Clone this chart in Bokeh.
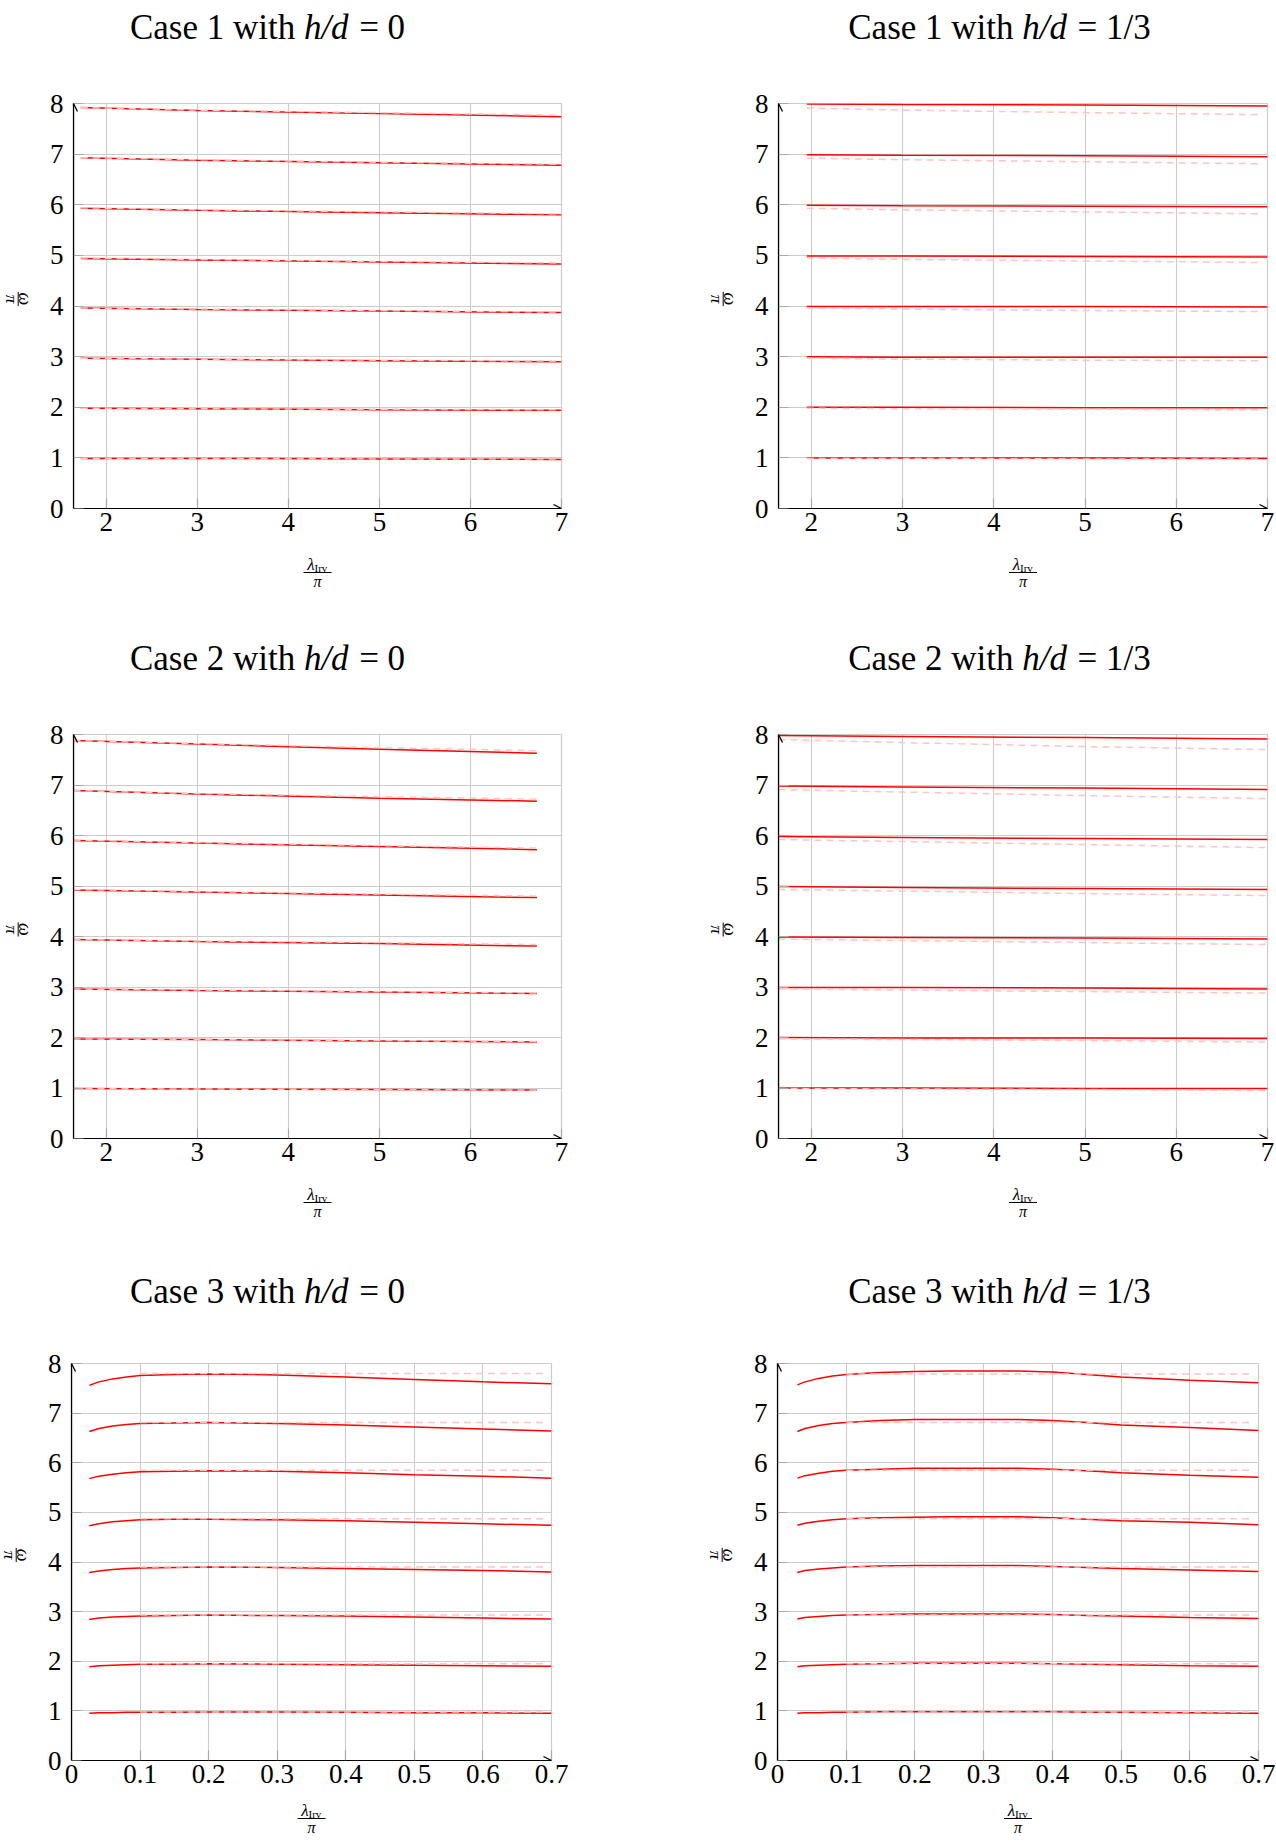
import math
from bokeh.plotting import figure
from bokeh.models import Range1d, FixedTicker, Label, Arrow, OpenHead
from bokeh.layouts import column, row
from bokeh.embed import file_html
from bokeh.resources import INLINE

# ---------------- data ----------------
y_ticks = [0, 1, 2, 3, 4, 5, 6, 7, 8]
y_tick_labels = ["0", "1", "2", "3", "4", "5", "6", "7", "8"]
x_ticks_lam = [2, 3, 4, 5, 6, 7]
x_tick_labels_lam = ["2", "3", "4", "5", "6", "7"]
x_ticks_small = [0, 0.1, 0.2, 0.3, 0.4, 0.5, 0.6, 0.7]
x_tick_labels_small = ["0", "0.1", "0.2", "0.3", "0.4", "0.5", "0.6", "0.7"]

case_names = ["Case 1", "Case 1", "Case 2", "Case 2", "Case 3", "Case 3"]
hd_names = ["0", "1/3", "0", "1/3", "0", "1/3"]

# Case 1, h/d = 0   (modes n = 1..8)
c1_hd0_x = [1.72, 3, 5, 7]
c1_hd0_solid = [
    [0.99, 0.99, 0.98, 0.97],
    [1.98, 1.97, 1.95, 1.94],
    [2.97, 2.95, 2.92, 2.90],
    [3.96, 3.93, 3.90, 3.87],
    [4.94, 4.91, 4.87, 4.83],
    [5.93, 5.89, 5.84, 5.80],
    [6.93, 6.88, 6.83, 6.78],
    [7.92, 7.86, 7.80, 7.74],
]
c1_hd0_dash_x = [1.72, 3, 5, 7]
c1_hd0_dash = [
    [0.99, 0.99, 0.98, 0.98],
    [1.98, 1.97, 1.96, 1.95],
    [2.97, 2.95, 2.93, 2.91],
    [3.96, 3.94, 3.91, 3.88],
    [4.95, 4.92, 4.88, 4.85],
    [5.94, 5.90, 5.86, 5.82],
    [6.93, 6.89, 6.84, 6.80],
    [7.92, 7.87, 7.82, 7.77],
]

# Case 1, h/d = 1/3
c1_hd13_x = [1.95, 3, 5, 7]
c1_hd13_solid = [
    [1.00, 1.00, 1.00, 0.99],
    [2.00, 2.00, 1.99, 1.99],
    [3.00, 2.99, 2.99, 2.99],
    [3.99, 3.99, 3.99, 3.98],
    [4.99, 4.99, 4.98, 4.97],
    [5.99, 5.98, 5.97, 5.96],
    [6.99, 6.98, 6.97, 6.95],
    [7.99, 7.98, 7.97, 7.95],
]
c1_hd13_dash_x = [1.95, 3, 5, 6.92]
c1_hd13_dash = [
    [0.99, 0.99, 0.98, 0.98],
    [1.98, 1.97, 1.96, 1.95],
    [2.97, 2.95, 2.93, 2.92],
    [3.96, 3.94, 3.91, 3.89],
    [4.95, 4.92, 4.89, 4.86],
    [5.93, 5.90, 5.86, 5.82],
    [6.92, 6.89, 6.85, 6.81],
    [7.91, 7.87, 7.82, 7.78],
]

# Case 2, h/d = 0
c2_hd0_x = [1.64, 3, 5, 6.73]
c2_hd0_solid = [
    [0.99, 0.98, 0.97, 0.96],
    [1.97, 1.96, 1.93, 1.91],
    [2.96, 2.93, 2.90, 2.87],
    [3.94, 3.90, 3.86, 3.81],
    [4.92, 4.88, 4.82, 4.77],
    [5.90, 5.85, 5.78, 5.72],
    [6.89, 6.82, 6.74, 6.68],
    [7.88, 7.81, 7.71, 7.63],
]
c2_hd0_dash_x = [1.64, 3, 5, 6.73]
c2_hd0_dash = [
    [0.99, 0.98, 0.97, 0.96],
    [1.97, 1.96, 1.94, 1.92],
    [2.96, 2.94, 2.91, 2.88],
    [3.94, 3.91, 3.88, 3.84],
    [4.93, 4.89, 4.84, 4.80],
    [5.91, 5.86, 5.80, 5.75],
    [6.89, 6.83, 6.77, 6.72],
    [7.88, 7.82, 7.74, 7.68],
]

# Case 2, h/d = 1/3
c2_hd13_x = [1.64, 3, 5, 7]
c2_hd13_solid = [
    [1.00, 1.00, 0.99, 0.99],
    [2.00, 1.99, 1.99, 1.98],
    [2.99, 2.99, 2.98, 2.96],
    [3.99, 3.98, 3.97, 3.95],
    [4.99, 4.97, 4.95, 4.93],
    [5.98, 5.96, 5.94, 5.92],
    [6.98, 6.96, 6.94, 6.91],
    [7.98, 7.96, 7.94, 7.91],
]
c2_hd13_dash_x = [1.64, 3, 5, 7]
c2_hd13_dash = [
    [0.99, 0.98, 0.97, 0.95],
    [1.97, 1.96, 1.94, 1.91],
    [2.96, 2.94, 2.91, 2.88],
    [3.95, 3.92, 3.88, 3.84],
    [4.93, 4.90, 4.85, 4.81],
    [5.92, 5.88, 5.82, 5.76],
    [6.91, 6.86, 6.79, 6.73],
    [7.90, 7.84, 7.76, 7.70],
]

# Case 3, h/d = 0
c3_hd0_x = [0.026, 0.04, 0.06, 0.08, 0.1, 0.15, 0.2, 0.3, 0.4, 0.5, 0.6, 0.7]
c3_hd0_solid = [
    [0.95, 0.96, 0.96, 0.97, 0.97, 0.97, 0.975, 0.975, 0.97, 0.96, 0.96, 0.95],
    [1.89, 1.91, 1.92, 1.93, 1.94, 1.94, 1.95, 1.94, 1.93, 1.92, 1.91, 1.90],
    [2.84, 2.87, 2.89, 2.90, 2.91, 2.92, 2.93, 2.92, 2.91, 2.89, 2.87, 2.85],
    [3.79, 3.82, 3.85, 3.87, 3.88, 3.89, 3.90, 3.89, 3.87, 3.85, 3.83, 3.80],
    [4.73, 4.77, 4.81, 4.83, 4.85, 4.86, 4.86, 4.85, 4.83, 4.80, 4.77, 4.74],
    [5.68, 5.73, 5.77, 5.80, 5.82, 5.83, 5.84, 5.83, 5.80, 5.76, 5.73, 5.69],
    [6.63, 6.69, 6.74, 6.77, 6.79, 6.80, 6.81, 6.79, 6.76, 6.72, 6.68, 6.64],
    [7.56, 7.63, 7.69, 7.73, 7.76, 7.78, 7.79, 7.77, 7.73, 7.68, 7.63, 7.59],
]
c3_hd0_dash_x = [0.1, 0.69]
c3_hd0_dash = [
    [0.975, 0.975],
    [1.95, 1.95],
    [2.93, 2.93],
    [3.90, 3.90],
    [4.87, 4.87],
    [5.85, 5.85],
    [6.81, 6.81],
    [7.80, 7.80],
]

# Case 3, h/d = 1/3
c3_hd13_x = [0.029, 0.04, 0.06, 0.08, 0.1, 0.15, 0.2, 0.25, 0.3, 0.35, 0.4, 0.45, 0.5, 0.6, 0.7]
c3_hd13_solid = [
    [0.95, 0.96, 0.96, 0.97, 0.97, 0.98, 0.98, 0.98, 0.98, 0.98, 0.98, 0.97, 0.97, 0.96, 0.95],
    [1.89, 1.91, 1.92, 1.93, 1.94, 1.95, 1.96, 1.96, 1.96, 1.96, 1.95, 1.94, 1.93, 1.91, 1.90],
    [2.85, 2.88, 2.90, 2.92, 2.93, 2.94, 2.95, 2.95, 2.95, 2.95, 2.94, 2.92, 2.91, 2.88, 2.86],
    [3.79, 3.83, 3.86, 3.88, 3.90, 3.92, 3.93, 3.93, 3.93, 3.93, 3.91, 3.89, 3.87, 3.84, 3.81],
    [4.74, 4.78, 4.82, 4.85, 4.87, 4.89, 4.90, 4.91, 4.91, 4.91, 4.89, 4.86, 4.83, 4.80, 4.75],
    [5.69, 5.74, 5.79, 5.83, 5.85, 5.87, 5.89, 5.89, 5.89, 5.89, 5.87, 5.84, 5.80, 5.75, 5.71],
    [6.63, 6.69, 6.75, 6.79, 6.81, 6.85, 6.87, 6.87, 6.87, 6.87, 6.85, 6.81, 6.76, 6.71, 6.65],
    [7.57, 7.63, 7.70, 7.75, 7.78, 7.82, 7.84, 7.85, 7.85, 7.85, 7.83, 7.78, 7.73, 7.66, 7.61],
]
c3_hd13_dash_x = [0.1, 0.69]
c3_hd13_dash = [
    [0.975, 0.975],
    [1.95, 1.95],
    [2.93, 2.93],
    [3.90, 3.90],
    [4.87, 4.87],
    [5.85, 5.85],
    [6.81, 6.81],
    [7.79, 7.79],
]

# ---------------- styling helpers ----------------
SERIF = "Liberation Serif"
RED = "#ff0000"
PINK = "#ffc4c4"
GRID = "#cccccc"

TIMES_ROMAN = {"C": 0.667, "a": 0.444, "s": 0.389, "e": 0.444, " ": 0.25,
               "0": 0.5, "1": 0.5, "2": 0.5, "3": 0.5, "w": 0.722, "i": 0.278,
               "t": 0.278, "h": 0.5, "/": 0.278, "d": 0.5, "=": 0.564}
TIMES_ITALIC = {"h": 0.5, "/": 0.278, "d": 0.5}

PLOT_LEFT = 36    # border kept inside the plot figure for the y tick labels
PLOT_TOP = 20
PLOT_BOTTOM = 36


def text_width(s, table, size):
    return sum(table.get(ch, 0.5) for ch in s) * size


def lbl(x, y, text, size, style="normal", align="left", angle=0.0):
    return Label(x=x, y=y, text=text, text_font=SERIF, text_font_size=f"{size}px",
                 text_font_style=style, text_align=align, text_baseline="middle",
                 text_color="black", angle=angle)


def strip(w, h):
    s = figure(width=w, height=h, x_range=Range1d(0, w), y_range=Range1d(0, h),
               min_border=0, min_border_left=0, min_border_right=0, min_border_top=0,
               min_border_bottom=0, toolbar_location=None, output_backend="svg",
               x_axis_location=None, y_axis_location=None, outline_line_color=None,
               background_fill_color="white", border_fill_color="white")
    s.grid.visible = False
    return s


def make_panel(xr, ticks, tick_labels, sx, sys_, dx, dys, case_txt, hd_txt,
               W, bl, fw, bt, fh, bb, title_cx, title_rise, bar_drop):
    br = W - bl - fw
    ph = PLOT_TOP + fh + PLOT_BOTTOM
    ystrip_w = bl - PLOT_LEFT

    p = figure(width=W - ystrip_w, height=ph, x_range=Range1d(xr[0], xr[1]),
               y_range=Range1d(0, 8), output_backend="svg", toolbar_location=None,
               min_border_left=PLOT_LEFT, min_border_right=br, min_border_top=PLOT_TOP,
               min_border_bottom=PLOT_BOTTOM, outline_line_color=GRID,
               outline_line_width=1.2, background_fill_color="white",
               border_fill_color="white")

    p.xaxis.ticker = FixedTicker(ticks=ticks)
    p.xaxis.major_label_overrides = {t: l for t, l in zip(ticks, tick_labels)}
    p.yaxis.ticker = FixedTicker(ticks=y_ticks)
    p.yaxis.major_label_overrides = {t: l for t, l in zip(y_ticks, y_tick_labels)}
    for ax in (p.xaxis[0], p.yaxis[0]):
        ax.axis_line_color = "black"
        ax.axis_line_width = 1.2
        ax.major_tick_in = 10
        ax.major_tick_out = 0
        ax.major_tick_line_color = "#a8a8a8"
        ax.major_tick_line_width = 1.2
        ax.minor_tick_line_color = None
        ax.major_label_text_font = SERIF
        ax.major_label_text_font_size = "27px"
        ax.major_label_text_color = "black"
    p.xaxis.major_label_standoff = 4
    p.yaxis.major_label_standoff = 10
    p.xgrid.grid_line_color = GRID
    p.ygrid.grid_line_color = GRID
    p.xgrid.grid_line_width = 1.1
    p.ygrid.grid_line_width = 1.1

    for ys in sys_:
        p.line(sx, ys, line_color=RED, line_width=1.5)
    for ys in dys:
        p.line(dx, ys, line_color=PINK, line_width=1.5, line_dash="7 5")

    p.add_layout(Arrow(end=OpenHead(size=8, line_width=1.3, line_color="black"),
                       x_start=xr[0], y_start=0, x_end=xr[0], y_end=8,
                       line_color="black", line_width=1.2))
    p.add_layout(Arrow(end=OpenHead(size=8, line_width=1.3, line_color="black"),
                       x_start=xr[0], y_start=0, x_end=xr[1], y_end=0,
                       line_color="black", line_width=1.2))

    # ---- title strip: "Case n with h/d = v"
    th = bt - PLOT_TOP
    ts = strip(W, th)
    size = 35
    part1 = f"{case_txt} with"
    part2 = "h/d"
    part3 = f"= {hd_txt}"
    w1 = text_width(part1, TIMES_ROMAN, size)
    w2 = text_width(part2, TIMES_ITALIC, size)
    w3 = text_width(part3, TIMES_ROMAN, size)
    sp = 0.25 * size
    thick = 0.30 * size
    total = w1 + sp + w2 + thick + w3
    x0 = title_cx - total / 2
    ty = title_rise - PLOT_TOP
    ts.add_layout(lbl(x0, ty, part1, size))
    ts.add_layout(lbl(x0 + w1 + sp, ty, part2, size, style="italic"))
    ts.add_layout(lbl(x0 + w1 + sp + w2 + thick, ty, part3, size))

    # ---- y label strip: omega / pi, rotated
    ys_ = strip(ystrip_w, ph)
    cy = PLOT_BOTTOM + fh / 2
    bx = bl - 55.3
    ys_.add_layout(lbl(bx + 7, cy, "ω", 18, style="italic", align="center",
                       angle=-math.pi / 2))
    ys_.add_layout(lbl(bx - 7, cy, "π", 17, style="italic", align="center",
                       angle=-math.pi / 2))
    ys_.segment(x0=[bx], y0=[cy - 8], x1=[bx], y1=[cy + 8], line_color="black", line_width=1)

    # ---- x label strip: lambda_Irv / pi   (drops measured below the frame)
    xh = bb - PLOT_BOTTOM
    xs = strip(W, xh)
    cx = bl + fw / 2

    def yy(drop):
        return xh - (drop - PLOT_BOTTOM)

    xs.add_layout(lbl(cx - 3, yy(bar_drop - 8), "λ", 17, style="italic", align="right"))
    xs.add_layout(lbl(cx - 3, yy(bar_drop - 5), "Irv", 11))
    xs.segment(x0=[cx - 14], y0=[yy(bar_drop)], x1=[cx + 14], y1=[yy(bar_drop)],
               line_color="black", line_width=1)
    xs.add_layout(lbl(cx, yy(bar_drop + 9), "π", 16, style="italic", align="center"))

    return column(ts, row(ys_, p), xs)


XR_LAM = (1.64, 7.0)
XR_SMALL = (0.0, 0.7)

# geometry: W, bl, fw, bt, fh, bb, title centre x, title rise above frame, bar drop below frame
p1 = make_panel(XR_LAM, x_ticks_lam, x_tick_labels_lam, c1_hd0_x, c1_hd0_solid,
                c1_hd0_dash_x, c1_hd0_dash, case_names[0], hd_names[0],
                668, 73, 488, 103, 405, 120, 267, 76, 64)
p2 = make_panel(XR_LAM, x_ticks_lam, x_tick_labels_lam, c1_hd13_x, c1_hd13_solid,
                c1_hd13_dash_x, c1_hd13_dash, case_names[1], hd_names[1],
                608, 110, 489, 103, 405, 120, 331, 76, 64)
p3 = make_panel(XR_LAM, x_ticks_lam, x_tick_labels_lam, c2_hd0_x, c2_hd0_solid,
                c2_hd0_dash_x, c2_hd0_dash, case_names[2], hd_names[2],
                668, 73, 488, 106, 404, 120, 267, 76, 64)
p4 = make_panel(XR_LAM, x_ticks_lam, x_tick_labels_lam, c2_hd13_x, c2_hd13_solid,
                c2_hd13_dash_x, c2_hd13_dash, case_names[3], hd_names[3],
                608, 110, 489, 106, 404, 120, 331, 76, 64)
p5 = make_panel(XR_SMALL, x_ticks_small, x_tick_labels_small, c3_hd0_x, c3_hd0_solid,
                c3_hd0_dash_x, c3_hd0_dash, case_names[4], hd_names[4],
                668, 71, 480, 105, 397, 83, 267, 72, 58)
p6 = make_panel(XR_SMALL, x_ticks_small, x_tick_labels_small, c3_hd13_x, c3_hd13_solid,
                c3_hd13_dash_x, c3_hd13_dash, case_names[5], hd_names[5],
                608, 109, 481, 105, 397, 83, 331, 72, 58)

layout = column(row(p1, p2), row(p3, p4), row(p5, p6))

with open("out.html", "w") as f:
    f.write(file_html(layout, INLINE))
